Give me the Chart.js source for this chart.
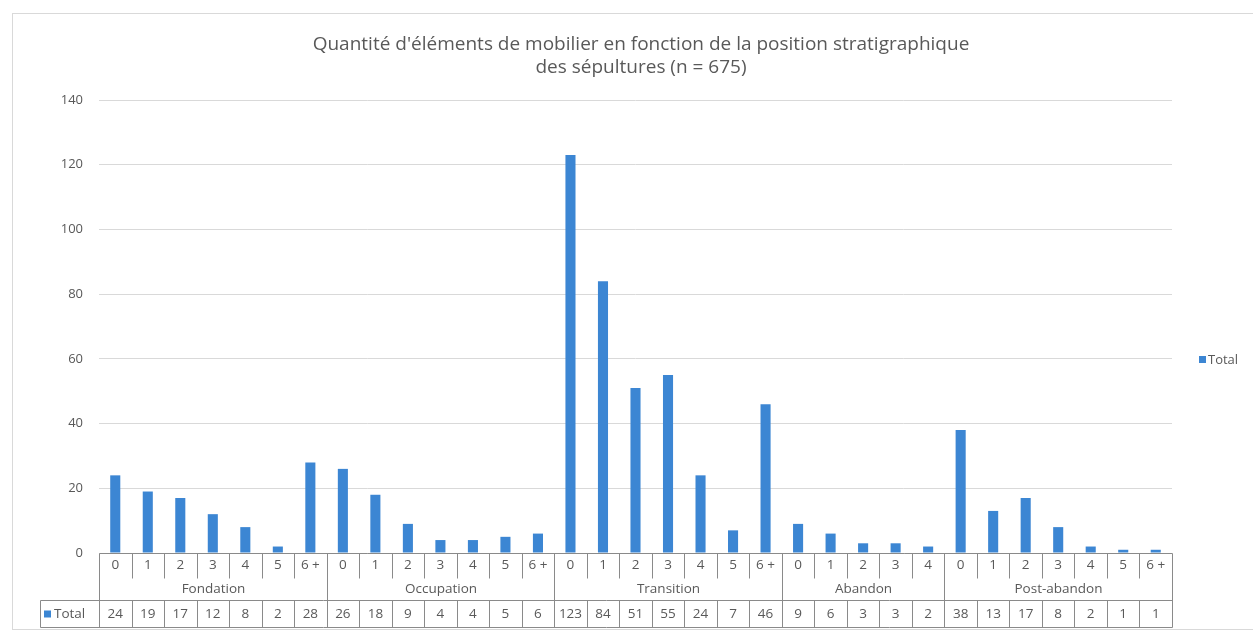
<!DOCTYPE html>
<html>
<head>
<meta charset="utf-8">
<script src="https://cdn.jsdelivr.net/npm/chart.js@4"></script>
<style>
  html, body { margin: 0; padding: 0; background: #fff; }
  #wrap { width: 1253px; height: 632px; }
</style>
</head>
<body>
<div id="wrap"><canvas id="chart" width="1253" height="632"></canvas></div>
<script>
// Stratigraphic phases and the burial positions inside each
const groups = ['Fondation', 'Occupation', 'Transition', 'Abandon', 'Post-abandon'];
const fondationPos = ['0', '1', '2', '3', '4', '5', '6 +'];
const occupationPos = ['0', '1', '2', '3', '4', '5', '6 +'];
const transitionPos = ['0', '1', '2', '3', '4', '5', '6 +'];
const abandonPos = ['0', '1', '2', '3', '4'];
const postAbandonPos = ['0', '1', '2', '3', '4', '5', '6 +'];

// Number of grave goods per position
const fondationVals = [24, 19, 17, 12, 8, 2, 28];
const occupationVals = [26, 18, 9, 4, 4, 5, 6];
const transitionVals = [123, 84, 51, 55, 24, 7, 46];
const abandonVals = [9, 6, 3, 3, 2];
const postAbandonVals = [38, 13, 17, 8, 2, 1, 1];

const yTicks = [0, 20, 40, 60, 80, 100, 120, 140];

const titleLines = ["Quantité d'éléments de mobilier en fonction de la position stratigraphique",
                    'des sépultures (n = 675)'];

const positions = [fondationPos, occupationPos, transitionPos, abandonPos, postAbandonPos];
const values = [fondationVals, occupationVals, transitionVals, abandonVals, postAbandonVals];

const labels = positions.flat();
const totals = values.flat();

const blue = '#3c86d3';
const textCol = '#595959';
const lineCol = '#8a8a8a';
const font = "'Open Sans', 'Liberation Sans', sans-serif";

// Frame around the whole chart, plus the two-line title centred on it
const frame = {
    id: 'frame',
    beforeDraw(chart) {
        const ctx = chart.ctx;
        ctx.save();
        ctx.strokeStyle = '#d9d9d9';
        ctx.lineWidth = 1;
        ctx.strokeRect(12.5, 13.5, 1250, 616);
        ctx.fillStyle = textCol;
        ctx.font = '19px ' + font;
        ctx.textAlign = 'center';
        ctx.textBaseline = 'middle';
        titleLines.forEach((t, i) => ctx.fillText(t, 641, 45 + i * 23));
        ctx.restore();
    }
};

// Category axis drawn as a data table under the plot
const dataTable = {
    id: 'dataTable',
    afterDraw(chart) {
        const ctx = chart.ctx;
        const x = chart.scales.x;
        const area = chart.chartArea;
        const n = labels.length;
        const step = (area.right - area.left) / n;
        const y0 = Math.round(area.bottom) + 0.5;
        const yInner = y0 + 25;
        const yRow2 = y0 + 47;
        const yBottom = y0 + 74;
        const keyLeft = 40.5;
        const edge = i => Math.round(area.left + i * step) + 0.5;

        ctx.save();
        ctx.strokeStyle = lineCol;
        ctx.lineWidth = 1;
        ctx.beginPath();
        // horizontal lines
        ctx.moveTo(edge(0), y0); ctx.lineTo(edge(n), y0);
        ctx.moveTo(keyLeft, yRow2); ctx.lineTo(edge(n), yRow2);
        ctx.moveTo(keyLeft, yBottom); ctx.lineTo(edge(n), yBottom);
        ctx.moveTo(keyLeft, yRow2); ctx.lineTo(keyLeft, yBottom);

        // vertical lines: full height at phase boundaries, split elsewhere
        let start = 0;
        const groupEdges = [0];
        values.forEach(v => { start += v.length; groupEdges.push(start); });
        for (let i = 0; i <= n; i++) {
            const xe = edge(i);
            if (groupEdges.includes(i)) {
                ctx.moveTo(xe, y0); ctx.lineTo(xe, yBottom);
            } else {
                ctx.moveTo(xe, y0); ctx.lineTo(xe, yInner);
                ctx.moveTo(xe, yRow2); ctx.lineTo(xe, yBottom);
            }
        }
        ctx.stroke();

        ctx.fillStyle = textCol;
        ctx.font = '13.5px ' + font;
        ctx.textAlign = 'center';
        ctx.textBaseline = 'middle';
        labels.forEach((lab, i) => {
            const cx = x.getPixelForValue(i);
            ctx.fillText(lab, cx, y0 + 12);
            ctx.fillText(String(totals[i]), cx, yRow2 + 14);
        });
        groups.forEach((g, k) => {
            const cx = (edge(groupEdges[k]) + edge(groupEdges[k + 1])) / 2;
            ctx.fillText(g, cx, y0 + 36);
        });

        // legend key inside the table
        ctx.fillStyle = blue;
        ctx.fillRect(44, yRow2 + 10, 7, 7);
        ctx.fillStyle = textCol;
        ctx.textAlign = 'left';
        ctx.fillText('Total', 54, yRow2 + 14);
        ctx.restore();
    }
};

// Series legend on the right
const sideLegend = {
    id: 'sideLegend',
    afterDraw(chart) {
        const ctx = chart.ctx;
        ctx.save();
        ctx.fillStyle = blue;
        ctx.fillRect(1199, 356, 7, 7);
        ctx.fillStyle = textCol;
        ctx.font = '13px ' + font;
        ctx.textBaseline = 'middle';
        ctx.fillText('Total', 1208, 360);
        ctx.restore();
    }
};

new Chart(document.getElementById('chart'), {
    type: 'bar',
    data: {
        labels: labels,
        datasets: [{
            label: 'Total',
            data: totals,
            backgroundColor: blue,
            barPercentage: 0.31,
            categoryPercentage: 1
        }]
    },
    options: {
        responsive: false,
        animation: false,
        layout: { padding: { left: 59, right: 81, top: 100, bottom: 79 } },
        plugins: {
            legend: { display: false },
            tooltip: { enabled: false },
            title: { display: false }
        },
        scales: {
            x: { display: false },
            y: {
                min: 0,
                max: 140,
                afterFit(scale) { scale.width = 40; },
                afterBuildTicks(scale) { scale.ticks = yTicks.map(v => ({ value: v })); },
                ticks: { color: textCol, font: { family: font, size: 13 }, padding: 16 },
                grid: { color: '#d9d9d9', drawTicks: false },
                border: { display: false }
            }
        }
    },
    plugins: [frame, dataTable, sideLegend]
});
</script>
</body>
</html>
